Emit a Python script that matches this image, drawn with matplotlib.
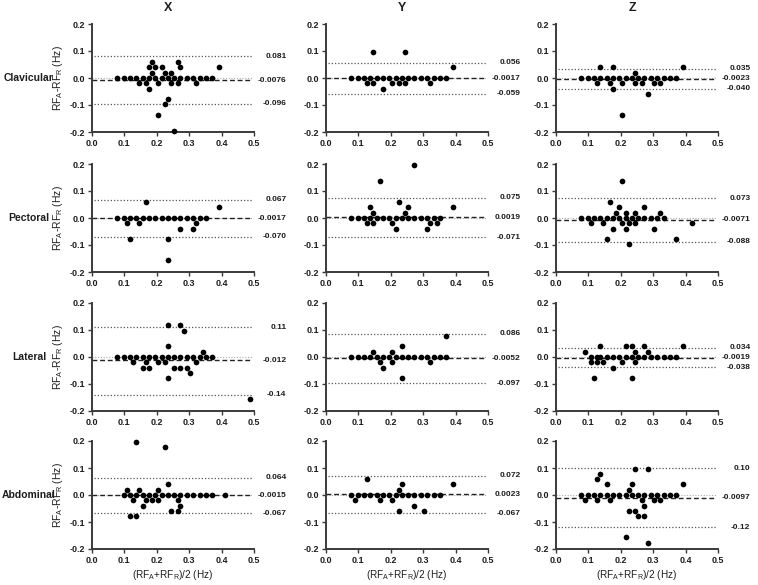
import matplotlib
matplotlib.use("Agg")
import matplotlib.pyplot as plt
import matplotlib.transforms as mtrans

plt.rcParams['font.family'] = ['Liberation Sans', 'DejaVu Sans']

rows = ["Clavicular", "Pectoral", "Lateral", "Abdominal"]
cols = ["X", "Y", "Z"]

# ---- data: (mean, diff) pairs per panel ----
clav_x_mean = [0.078, 0.098, 0.117, 0.137, 0.156, 0.176, 0.195, 0.215, 0.234, 0.254, 0.273, 0.293, 0.313, 0.332, 0.352, 0.371,
               0.146, 0.166, 0.205, 0.244, 0.264, 0.322, 0.176, 0.195, 0.215, 0.273, 0.391, 0.186, 0.225, 0.244, 0.186, 0.264,
               0.176, 0.234, 0.225, 0.205, 0.254]
clav_x_diff = [0, 0, 0, 0, 0, 0, 0, 0, 0, 0, 0, 0, 0, 0, 0, 0,
               -0.020, -0.020, -0.020, -0.020, -0.020, -0.020, 0.039, 0.039, 0.039, 0.039, 0.039, 0.020, 0.020, 0.020, 0.059, 0.059,
               -0.039, -0.078, -0.098, -0.137, -0.195]

clav_y_mean = [0.078, 0.098, 0.117, 0.137, 0.156, 0.176, 0.195, 0.215, 0.234, 0.254, 0.273, 0.293, 0.313, 0.332, 0.352, 0.371,
               0.146, 0.244, 0.391, 0.127, 0.146, 0.205, 0.225, 0.244, 0.322, 0.176]
clav_y_diff = [0, 0, 0, 0, 0, 0, 0, 0, 0, 0, 0, 0, 0, 0, 0, 0,
               0.098, 0.098, 0.039, -0.020, -0.020, -0.020, -0.020, -0.020, -0.020, -0.039]

clav_z_mean = [0.078, 0.098, 0.117, 0.137, 0.156, 0.176, 0.195, 0.215, 0.234, 0.254, 0.273, 0.293, 0.313, 0.332, 0.352, 0.371,
               0.137, 0.176, 0.127, 0.166, 0.176, 0.205, 0.244, 0.244, 0.264, 0.303, 0.322, 0.283, 0.205, 0.391]
clav_z_diff = [0, 0, 0, 0, 0, 0, 0, 0, 0, 0, 0, 0, 0, 0, 0, 0,
               0.039, 0.039, -0.020, -0.020, -0.039, -0.020, 0.020, -0.020, -0.020, -0.020, -0.020, -0.059, -0.137, 0.039]

pect_x_mean = [0.078, 0.098, 0.117, 0.137, 0.156, 0.176, 0.195, 0.215, 0.234, 0.254, 0.273, 0.293, 0.313, 0.332, 0.352,
               0.107, 0.117, 0.146, 0.166, 0.234, 0.234, 0.273, 0.313, 0.322, 0.391]
pect_x_diff = [0, 0, 0, 0, 0, 0, 0, 0, 0, 0, 0, 0, 0, 0, 0,
               -0.020, -0.078, -0.020, 0.059, -0.078, -0.156, -0.039, -0.039, -0.020, 0.039]

pect_y_mean = [0.078, 0.098, 0.117, 0.137, 0.156, 0.176, 0.195, 0.215, 0.234, 0.254, 0.273, 0.293, 0.313, 0.332, 0.352,
               0.127, 0.137, 0.146, 0.146, 0.166, 0.205, 0.215, 0.225, 0.244, 0.254, 0.273, 0.313, 0.322, 0.342, 0.391]
pect_y_diff = [0, 0, 0, 0, 0, 0, 0, 0, 0, 0, 0, 0, 0, 0, 0,
               -0.020, 0.039, 0.020, -0.020, 0.137, -0.020, -0.039, 0.059, 0.020, 0.039, 0.195, -0.039, -0.020, -0.020, 0.039]

pect_z_mean = [0.078, 0.098, 0.117, 0.137, 0.156, 0.176, 0.195, 0.215, 0.234, 0.254, 0.273, 0.293, 0.313, 0.332,
               0.107, 0.146, 0.156, 0.166, 0.176, 0.186, 0.195, 0.205, 0.205, 0.215, 0.215, 0.225, 0.225, 0.244, 0.244,
               0.273, 0.303, 0.322, 0.371, 0.420]
pect_z_diff = [0, 0, 0, 0, 0, 0, 0, 0, 0, 0, 0, 0, 0, 0,
               -0.020, -0.020, -0.078, 0.059, -0.039, 0.020, 0.039, 0.137, -0.020, 0.020, -0.039, -0.020, -0.098, 0.020, -0.020,
               0.039, -0.039, 0.020, -0.078, -0.020]

lat_x_mean = [0.078, 0.098, 0.117, 0.137, 0.156, 0.176, 0.195, 0.215, 0.234, 0.254, 0.273, 0.293, 0.313, 0.332, 0.352, 0.371,
              0.127, 0.156, 0.166, 0.176, 0.205, 0.225, 0.234, 0.234, 0.234, 0.254, 0.273, 0.273, 0.283, 0.293, 0.303, 0.322,
              0.342, 0.488]
lat_x_diff = [0, 0, 0, 0, 0, 0, 0, 0, 0, 0, 0, 0, 0, 0, 0, 0,
              -0.020, -0.039, -0.020, -0.039, -0.020, -0.020, 0.117, 0.039, -0.078, -0.039, 0.117, -0.039, 0.098, -0.039, -0.059,
              -0.020, 0.020, -0.156]

lat_y_mean = [0.078, 0.098, 0.117, 0.137, 0.156, 0.176, 0.195, 0.215, 0.234, 0.254, 0.273, 0.293, 0.313, 0.332, 0.352, 0.371,
              0.146, 0.166, 0.176, 0.205, 0.205, 0.234, 0.234, 0.322, 0.371]
lat_y_diff = [0, 0, 0, 0, 0, 0, 0, 0, 0, 0, 0, 0, 0, 0, 0, 0,
              0.020, -0.020, -0.039, 0.020, -0.020, 0.039, -0.078, -0.020, 0.078]

lat_z_mean = [0.107, 0.127, 0.137, 0.156, 0.176, 0.195, 0.215, 0.234, 0.254, 0.273, 0.293, 0.313, 0.332, 0.352, 0.371,
              0.088, 0.107, 0.117, 0.127, 0.137, 0.146, 0.176, 0.205, 0.215, 0.234, 0.234, 0.244, 0.244, 0.273, 0.283, 0.391]
lat_z_diff = [0, 0, 0, 0, 0, 0, 0, 0, 0, 0, 0, 0, 0, 0, 0,
              0.020, -0.020, -0.078, -0.020, 0.039, -0.020, -0.039, -0.020, 0.039, 0.039, -0.078, 0.020, -0.020, 0.039, 0.020, 0.039]

abd_x_mean = [0.098, 0.117, 0.137, 0.156, 0.176, 0.195, 0.215, 0.234, 0.254, 0.273, 0.293, 0.313, 0.332, 0.352, 0.371, 0.410,
              0.107, 0.117, 0.127, 0.137, 0.137, 0.146, 0.156, 0.166, 0.186, 0.205, 0.205, 0.225, 0.234, 0.244, 0.264, 0.264,
              0.273]
abd_x_diff = [0, 0, 0, 0, 0, 0, 0, 0, 0, 0, 0, 0, 0, 0, 0, 0,
              0.020, -0.078, -0.020, 0.195, -0.078, 0.020, -0.039, -0.020, -0.020, 0.020, -0.020, 0.176, 0.039, -0.059, -0.020,
              -0.059, -0.039]

abd_y_mean = [0.078, 0.098, 0.117, 0.137, 0.156, 0.176, 0.195, 0.215, 0.234, 0.254, 0.273, 0.293, 0.313, 0.332, 0.352,
              0.088, 0.127, 0.166, 0.205, 0.225, 0.225, 0.234, 0.273, 0.303, 0.391]
abd_y_diff = [0, 0, 0, 0, 0, 0, 0, 0, 0, 0, 0, 0, 0, 0, 0,
              -0.020, 0.059, -0.020, -0.020, -0.059, 0.020, 0.039, -0.039, -0.059, 0.039]

abd_z_mean = [0.078, 0.098, 0.117, 0.137, 0.156, 0.176, 0.195, 0.215, 0.234, 0.254, 0.273, 0.293, 0.313, 0.332, 0.352, 0.371,
              0.088, 0.127, 0.127, 0.137, 0.156, 0.166, 0.215, 0.225, 0.225, 0.234, 0.244, 0.244, 0.254, 0.264, 0.273, 0.273,
              0.283, 0.283, 0.303, 0.322, 0.391]
abd_z_diff = [0, 0, 0, 0, 0, 0, 0, 0, 0, 0, 0, 0, 0, 0, 0, 0,
              -0.020, 0.059, -0.020, 0.078, 0.039, -0.020, -0.156, 0.020, -0.059, 0.039, 0.098, -0.059, -0.078, -0.020, -0.039,
              -0.078, 0.098, -0.176, -0.020, -0.020, 0.039]

# upper limit, bias, lower limit
clav_x_lines = [0.081, -0.0076, -0.096]
clav_y_lines = [0.056, -0.0017, -0.059]
clav_z_lines = [0.035, -0.0023, -0.040]
pect_x_lines = [0.067, -0.0017, -0.070]
pect_y_lines = [0.075, 0.0019, -0.071]
pect_z_lines = [0.073, -0.0071, -0.088]
lat_x_lines = [0.11, -0.012, -0.14]
lat_y_lines = [0.086, -0.0052, -0.097]
lat_z_lines = [0.034, -0.0019, -0.038]
abd_x_lines = [0.064, -0.0015, -0.067]
abd_y_lines = [0.072, 0.0023, -0.067]
abd_z_lines = [0.10, -0.0097, -0.12]

line_labels = [
    [["0.081", "-0.0076", "-0.096"], ["0.056", "-0.0017", "-0.059"], ["0.035", "-0.0023", "-0.040"]],
    [["0.067", "-0.0017", "-0.070"], ["0.075", "0.0019", "-0.071"], ["0.073", "-0.0071", "-0.088"]],
    [["0.11", "-0.012", "-0.14"], ["0.086", "-0.0052", "-0.097"], ["0.034", "-0.0019", "-0.038"]],
    [["0.064", "-0.0015", "-0.067"], ["0.072", "0.0023", "-0.067"], ["0.10", "-0.0097", "-0.12"]],
]

panels = [
    [(clav_x_mean, clav_x_diff, clav_x_lines), (clav_y_mean, clav_y_diff, clav_y_lines), (clav_z_mean, clav_z_diff, clav_z_lines)],
    [(pect_x_mean, pect_x_diff, pect_x_lines), (pect_y_mean, pect_y_diff, pect_y_lines), (pect_z_mean, pect_z_diff, pect_z_lines)],
    [(lat_x_mean, lat_x_diff, lat_x_lines), (lat_y_mean, lat_y_diff, lat_y_lines), (lat_z_mean, lat_z_diff, lat_z_lines)],
    [(abd_x_mean, abd_x_diff, abd_x_lines), (abd_y_mean, abd_y_diff, abd_y_lines), (abd_z_mean, abd_z_diff, abd_z_lines)],
]

xticks = [0.0, 0.1, 0.2, 0.3, 0.4, 0.5]
yticks = [-0.2, -0.1, 0.0, 0.1, 0.2]

W, H = 758, 585
fig = plt.figure(figsize=(W / 100, H / 100), dpi=100)

col_left = [92, 326, 556]
ax_w = 162
row_top = [24, 164, 303, 441]
ax_h = 108
spine_c = "#3a3a3a"
txt_c = "#1e1e1e"

for r in range(4):
    for c in range(3):
        mean, diff, lines = panels[r][c]
        ax = fig.add_axes([col_left[c] / W, 1 - (row_top[r] + ax_h) / H, ax_w / W, ax_h / H])
        ax.set_xlim(0, 0.5)
        ax.set_ylim(-0.2, 0.2)
        for s in ["top", "right"]:
            ax.spines[s].set_visible(False)
        for s in ["left", "bottom"]:
            ax.spines[s].set_linewidth(1.4)
            ax.spines[s].set_color(spine_c)
        ax.set_xticks(xticks)
        ax.set_yticks(yticks)
        ax.set_xticklabels([f"{v:.1f}" for v in xticks], fontweight="bold")
        ax.set_yticklabels([f"{v:.1f}" for v in yticks], fontweight="bold")
        ax.tick_params(axis="both", length=3, width=1, color=spine_c, labelsize=6.5, pad=2, labelcolor=txt_c)

        ax.axhline(0, xmin=0.0, xmax=0.99, color="#aaaaaa", lw=0.8, ls=(0, (1, 1.5)), zorder=1)
        ax.axhline(lines[0], xmin=0.015, xmax=0.99, color="#555555", lw=0.9, ls=(0, (1, 1.6)), zorder=1)
        ax.axhline(lines[2], xmin=0.015, xmax=0.99, color="#555555", lw=0.9, ls=(0, (1, 1.6)), zorder=1)
        ax.axhline(lines[1], xmin=0.0, xmax=0.99, color="#222222", lw=1.0, ls=(0, (3.5, 2)), zorder=1)

        ax.plot(mean, diff, "o", ms=4.1, color="black", mec="black", mew=0, zorder=3, clip_on=False)

        trans = mtrans.blended_transform_factory(ax.transAxes, ax.transData)
        for val, lab in zip(lines, line_labels[r][c]):
            ax.text(1.2, val, lab, transform=trans, ha="right", va="center", fontsize=6,
                    fontweight="bold", color=txt_c)

        if c == 0:
            ax.set_ylabel("RF$_\\mathregular{A}$-RF$_\\mathregular{R}$ (Hz)", fontsize=7.5, labelpad=3, color=txt_c)
            fig.text(29 / W, 1 - (row_top[r] + ax_h / 2) / H, rows[r], ha="center", va="center",
                     fontsize=7.5, fontweight="bold", color=txt_c)
        if r == 3:
            ax.set_xlabel("(RF$_\\mathregular{A}$+RF$_\\mathregular{R}$)/2 (Hz)", fontsize=7.2, labelpad=2, color=txt_c)
        if r == 0:
            fig.text((col_left[c] + ax_w / 2 - 5) / W, 1 - 8 / H, cols[c], ha="center", va="center",
                     fontsize=9, fontweight="bold", color=txt_c)

fig.savefig("out.png", dpi=100)
